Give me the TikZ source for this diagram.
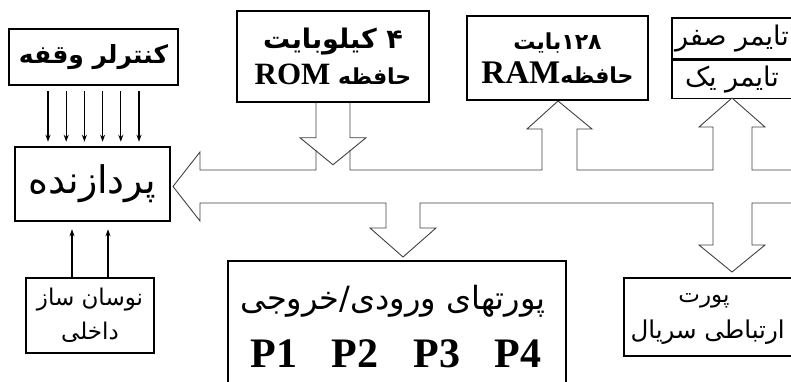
\documentclass[tikz,border=0pt]{standalone}
\usepackage{fontspec}
\setmainfont{Liberation Serif}
\newfontfamily\farsi[Script=Arabic]{DejaVu Sans}
\TeXXeTstate=1
\usetikzlibrary{arrows.meta}
\newcommand{\fa}[1]{{\farsi\beginR #1\endR}}
\newcommand{\fab}[1]{{\farsi\bfseries\beginR #1\endR}}
\newcommand{\ltr}[1]{\beginL #1\endL}
\tikzset{
  block/.style={draw,line width=1.5pt,inner sep=0pt,align=center},
  bus/.style={draw=black!75,line width=0.9pt,line join=miter},
  sig/.style={-{Stealth[length=7pt,width=5pt]},line width=1.1pt},
}
\begin{document}
\begin{tikzpicture}[x=1pt,y=-1pt]
  \useasboundingbox (0,0) rectangle (791,382);
  \clip (0,0) rectangle (791,382);
  \node[block,line width=2pt,minimum width=169pt,minimum height=56pt] (ictrl) at (93.5,57) {\fontsize{25}{28}\selectfont\fab{کنترلر وقفه}};
  \node[block,line width=2.5pt,minimum width=155pt,minimum height=74pt] (cpu) at (92.5,184) {\fontsize{38}{40}\selectfont\fa{پردازنده}};
  \node[block,minimum width=128pt,minimum height=75pt,font={\fontsize{23}{34}\selectfont}] (osc) at (90,315.5) {\fa{نوسان ساز}\\\fa{داخلی}};
  \node[block,minimum width=192pt,minimum height=91pt,font={\fontsize{27}{36}\selectfont}] (rom) at (333,56.5)
    {\fab{\ltr{۴} کیلوبایت}\\{\fontsize{22}{36}\selectfont\fab{حافظه \ltr{\rmfamily\bfseries\fontsize{31}{31}\selectfont ROM}}}};
  \node[block,minimum width=181pt,minimum height=84pt,font={\fontsize{22}{34}\selectfont}] (ram) at (557.5,58)
    {\fab{\ltr{۱۲۸}بایت}\\\fab{حافظه\ltr{\rmfamily\bfseries\fontsize{33}{33}\selectfont RAM}}};
  \node[block,line width=1.2pt,minimum width=120pt,minimum height=41pt,font={\fontsize{27}{28}\selectfont}] (tmr0) at (732,38.5) {\fa{تایمر صفر}};
  \node[block,line width=1.2pt,minimum width=120pt,minimum height=38pt,font={\fontsize{27}{28}\selectfont},anchor=north] (tmr1) at (tmr0.south) {\fa{تایمر یک}};
  \node[block,minimum width=338pt,minimum height=140pt,anchor=north west] (io) at (227,260) {};
  \node[font={\fontsize{32}{34}\selectfont}] (iotitle) at (393,301) {\fa{پورتهای ورودی/خروجی}};
  \foreach \i/\x in {1/274,2/355,3/437,4/518}
    \node[font={\rmfamily\bfseries\fontsize{42}{44}\selectfont}] (p\i) at (\x,354) {P\i};
  \node[block,minimum width=182pt,minimum height=78pt,anchor=north west] (serial) at (623,277) {};
  \node[font={\fontsize{23}{26}\selectfont}] (sertop) at (704,301) {\fa{پورت}};
  \node[font={\fontsize{24.5}{28}\selectfont},anchor=west] (serbot) at (627,332) {\fa{ارتباطی سریال}};
  \foreach \dx in {-45.5,-27.3,-9.1,9.1,27.3,45.5}
    \draw[sig,shorten <=5pt,shorten >=4pt] ([xshift=\dx]ictrl.south) -- ([xshift=\dx]ictrl.south |- cpu.north);
  \foreach \dx in {-18,18}
    \draw[sig,shorten >=7pt] ([xshift=\dx]osc.north) -- ([xshift=\dx]osc.north |- cpu.south);
  \draw[bus] (rom.south) ++(-17,0) -- ++(0,35) -- ++(-16,0) -- ++(33,27) -- ++(33,-27) -- ++(-16,0) -- ++(0,-35);
  \draw[bus] (173,186.5) -- (200,152) -- (200,170) -- (316,170) -- (316,150)
    (350,150) -- (350,170) -- (542,170) -- (542,129) -- (527,129) -- (558,101) -- (592,129) -- (577,129) -- (577,170)
    -- (713,170) -- (713,127) -- (699,127) -- (732,98) -- (765,127) -- (752,127) -- (752,170) -- (795,170)
    (795,203) -- (752,203) -- (752,245) -- (765,245) -- (732,272) -- (699,245) -- (713,245) -- (713,203)
    -- (420,203) -- (420,228) -- (436,228) -- (403,257) -- (370,228) -- (386,228) -- (386,203)
    -- (200,203) -- (200,221) -- (173,186.5);
\end{tikzpicture}
\end{document}
